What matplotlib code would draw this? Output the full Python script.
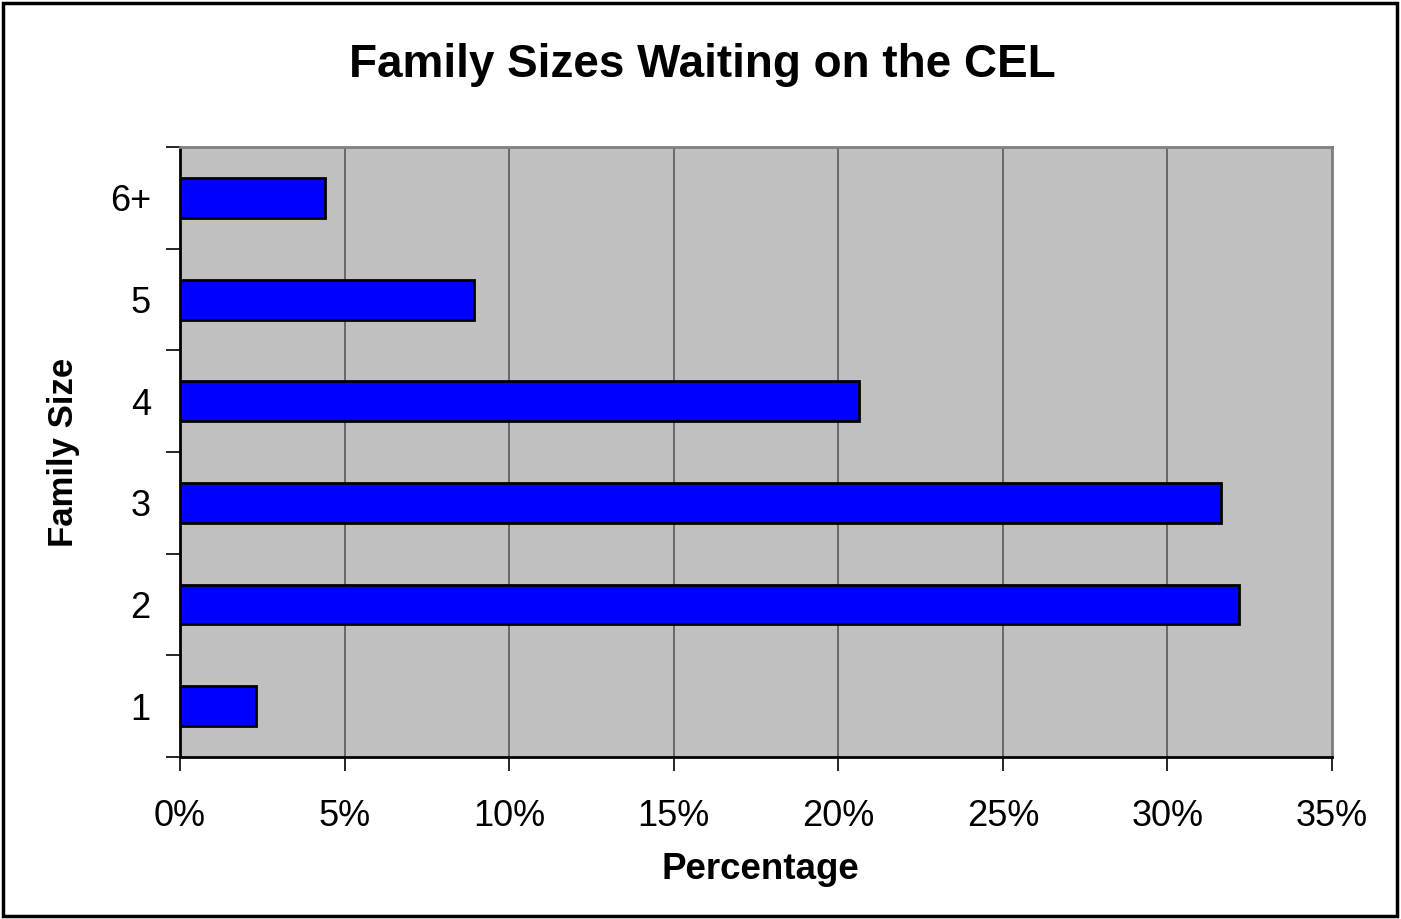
import numpy as np
import matplotlib
matplotlib.use('Agg')
from matplotlib import pyplot as plt
from matplotlib.patches import Rectangle
from matplotlib.ticker import FixedLocator, FuncFormatter

plt.rcParams['font.family'] = ['Liberation Sans', 'DejaVu Sans']

sizes = ['1', '2', '3', '4', '5', '6+']
pct = [2.3, 32.18, 31.62, 20.64, 8.93, 4.41]

fig = plt.figure(figsize=(14.01, 9.19), dpi=100)
ax = fig.add_axes([0.1285, 0.1763, 0.8222, 0.6637])
ax.set_facecolor('#c0c0c0')

y = np.arange(len(sizes))
ax.barh(y, pct, height=0.393, color='#0000ff', edgecolor='black', linewidth=2, zorder=3)

ax.set_xlim(0, 35)
ax.set_ylim(-0.5, len(sizes) - 0.5)
ax.set_xticks(np.arange(0, 36, 5))
ax.xaxis.set_major_formatter(FuncFormatter(lambda v, p: f'{v:.0f}%'))
ax.grid(axis='x', color='#505050', linewidth=1.1, zorder=1)

ax.set_yticks(y)
ax.set_yticklabels(sizes)
ax.yaxis.set_minor_locator(FixedLocator(np.arange(-0.5, len(sizes), 1)))
ax.tick_params(axis='y', which='major', length=0, pad=21, labelsize=26)
ax.tick_params(axis='y', which='minor', length=10, width=1.2, direction='out')
ax.tick_params(axis='x', which='major', length=10, width=1.2, direction='out', pad=20, labelsize=26)

for s in ['left', 'bottom']:
    ax.spines[s].set_color('black')
    ax.spines[s].set_linewidth(2)
for s in ['top', 'right']:
    ax.spines[s].set_color('#808080')
    ax.spines[s].set_linewidth(2)

fig.text(0.5014, 0.9162, 'Family Sizes Waiting on the CEL', fontsize=33, fontweight='bold',
         ha='center', va='baseline')
fig.text(0.5425, 0.0435, 'Percentage', fontsize=26.5, fontweight='bold', ha='center', va='baseline')
fig.text(0.045, 0.5076, 'Family Size', fontsize=25, fontweight='bold', rotation=90,
         ha='center', va='center')

fig.patches.append(Rectangle((0.002, 0.003), 0.995, 0.994, transform=fig.transFigure,
                             fill=False, edgecolor='black', linewidth=2.5))

fig.savefig('out.png', dpi=100)
